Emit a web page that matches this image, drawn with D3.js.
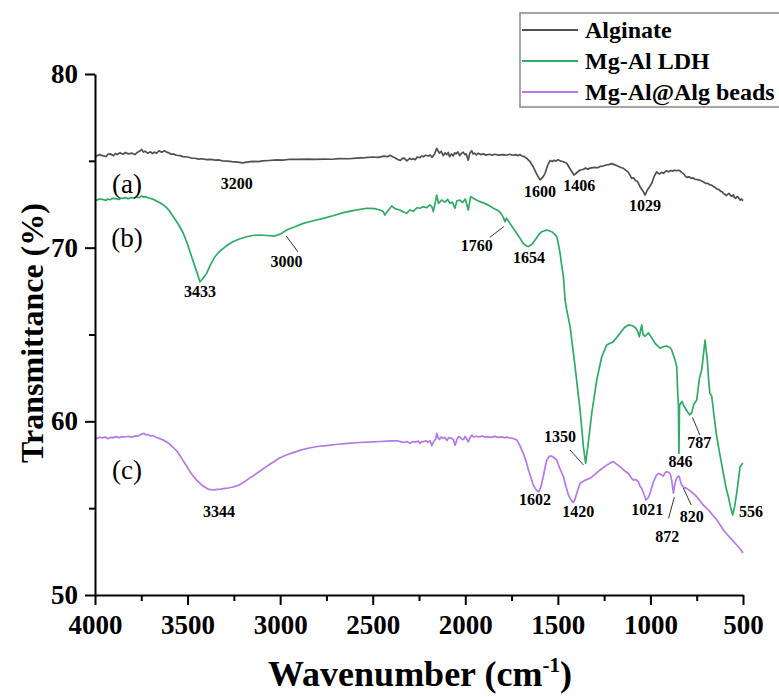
<!DOCTYPE html>
<html>
<head>
<meta charset="utf-8">
<script src="https://cdn.jsdelivr.net/npm/d3@7"></script>
<style>
  html, body { margin: 0; padding: 0; background: #fff; }
  svg { display: block; }
  text { font-family: "Liberation Serif", "Times New Roman", Times, serif; }
</style>
</head>
<body>
<svg id="chart" width="779" height="697"></svg>
<script>
// FTIR spectra: [wavenumber (cm-1), transmittance (%)]
const alginate = [
  [4000,75.25],[3991,75.28],[3975,75.36],[3960,75.30],[3940,75.25],[3930,75.38],[3919,75.40],[3900,75.30],
  [3890,75.42],[3880,75.36],[3865,75.46],[3849,75.38],[3835,75.48],[3820,75.40],[3800,75.44],[3785,75.36],
  [3770,75.50],[3755,75.58],[3748,75.66],[3738,75.50],[3730,75.56],[3715,75.44],[3700,75.52],[3690,75.42],
  [3680,75.50],[3667,75.44],[3655,75.58],[3640,75.50],[3625,75.58],[3613,75.50],[3600,75.46],[3590,75.38],
  [3575,75.40],[3560,75.32],[3540,75.30],[3525,75.24],[3500,75.22],[3480,75.16],[3460,75.15],[3440,75.10],
  [3420,75.12],[3397,75.07],[3375,75.08],[3350,75.04],[3330,75.05],[3309,75.00],[3285,74.98],[3260,74.95],
  [3230,74.93],[3201,74.88],[3180,74.93],[3150,74.97],[3120,74.95],[3093,75.00],[3060,75.02],[3020,75.05],
  [2985,75.04],[2947,75.09],[2900,75.08],[2850,75.10],[2810,75.08],[2768,75.10],[2720,75.09],[2680,75.13],
  [2630,75.12],[2586,75.16],[2540,75.18],[2500,75.22],[2470,75.20],[2440,75.27],[2420,75.24],[2407,75.32],
  [2390,75.22],[2380,75.18],[2365,75.08],[2350,75.02],[2340,75.14],[2330,75.16],[2316,75.00],[2300,75.14],
  [2290,75.08],[2280,75.12],[2270,75.06],[2260,75.22],[2245,75.18],[2236,75.28],[2227,75.24],[2215,75.32],
  [2200,75.28],[2190,75.34],[2180,75.20],[2172,75.30],[2165,75.42],[2154,75.72],[2146,75.56],[2140,75.44],
  [2130,75.54],[2119,75.30],[2110,75.46],[2100,75.36],[2092,75.48],[2085,75.24],[2075,75.40],[2065,75.28],
  [2057,75.46],[2050,75.40],[2040,75.52],[2030,75.30],[2020,75.44],[2011,75.50],[2003,75.36],[1995,75.40],
  [1984,75.04],[1975,75.46],[1965,75.58],[1958,75.40],[1950,75.44],[1940,75.34],[1930,75.44],[1918,75.36],
  [1903,75.40],[1888,75.33],[1870,75.38],[1855,75.32],[1840,75.38],[1820,75.33],[1795,75.36],[1778,75.32],
  [1760,75.38],[1745,75.32],[1730,75.36],[1715,75.30],[1704,75.36],[1695,75.28],[1685,75.26],[1676,75.20],
  [1668,75.14],[1660,75.06],[1650,74.95],[1633,74.66],[1615,74.25],[1596,73.90],[1582,74.05],[1569,74.28],
  [1555,74.75],[1542,75.01],[1530,74.96],[1520,75.04],[1510,74.98],[1500,75.06],[1488,75.00],[1470,74.95],
  [1452,74.86],[1432,74.50],[1413,74.18],[1400,74.30],[1380,74.47],[1365,74.50],[1350,74.58],[1338,74.52],
  [1326,74.58],[1300,74.62],[1285,74.60],[1272,74.68],[1255,74.70],[1240,74.76],[1225,74.78],[1209,74.84],
  [1195,74.78],[1180,74.72],[1160,74.62],[1146,74.57],[1120,74.35],[1101,73.99],[1090,74.02],[1080,73.85],
  [1070,73.82],[1056,73.51],[1040,73.25],[1029,73.03],[1015,73.35],[1005,73.50],[993,73.71],[980,74.10],
  [966,74.37],[958,74.28],[950,74.25],[940,74.34],[930,74.28],[915,74.42],[903,74.37],[890,74.44],
  [880,74.40],[870,74.46],[860,74.44],[850,74.46],[840,74.42],[830,74.32],[820,74.25],[812,74.12],
  [804,74.05],[792,74.08],[780,74.00],[770,74.02],[760,73.94],[745,73.92],[732,73.88],[715,73.80],
  [700,73.70],[690,73.70],[680,73.62],[670,73.60],[660,73.52],[650,73.46],[640,73.38],[630,73.34],
  [620,73.24],[612,73.22],[606,73.12],[598,73.08],[590,73.00],[582,73.08],[575,73.12],[567,73.00],
  [560,72.95],[552,73.04],[546,72.90],[540,72.84],[532,72.94],[525,72.90],[520,72.80],[515,72.74],
  [507,72.80],[500,72.70]
];

const mgAlLdh = [
  [4000,72.72],[3991,72.74],[3975,72.80],[3960,72.78],[3940,72.72],[3930,72.80],[3919,72.76],[3905,72.84],
  [3890,72.82],[3870,72.78],[3858,72.86],[3847,72.84],[3835,72.88],[3820,72.82],[3805,72.88],[3790,72.86],
  [3775,72.92],[3760,72.88],[3748,72.98],[3738,72.90],[3730,72.94],[3710,72.86],[3695,72.82],[3685,72.78],
  [3660,72.65],[3645,72.56],[3631,72.46],[3615,72.32],[3600,72.15],[3577,71.78],[3550,71.35],[3523,70.83],
  [3500,70.20],[3478,69.48],[3455,68.75],[3433,68.04],[3415,68.25],[3397,68.52],[3375,69.05],[3352,69.48],
  [3330,69.75],[3307,69.96],[3280,70.18],[3253,70.35],[3220,70.50],[3181,70.63],[3150,70.70],[3109,70.73],
  [3070,70.70],[3028,70.67],[3000,70.78],[2965,71.02],[2920,71.20],[2875,71.40],[2820,71.55],[2767,71.69],
  [2710,71.85],[2659,72.02],[2600,72.15],[2532,72.27],[2490,72.25],[2461,72.17],[2445,72.10],[2434,71.88],
  [2420,72.10],[2397,72.40],[2380,72.25],[2353,72.17],[2335,72.05],[2316,71.98],[2300,72.17],[2280,72.10],
  [2260,72.30],[2245,72.27],[2227,72.36],[2210,72.30],[2191,72.46],[2180,72.35],[2173,72.08],[2165,72.45],
  [2154,73.03],[2145,72.55],[2127,72.74],[2110,72.62],[2095,72.78],[2083,72.56],[2070,72.62],[2056,72.27],
  [2045,72.70],[2029,72.74],[2015,72.60],[2000,72.80],[1984,72.17],[1975,72.70],[1971,72.94],[1950,72.80],
  [1921,72.65],[1895,72.55],[1867,72.40],[1845,72.25],[1822,72.13],[1805,71.95],[1795,71.75],[1786,71.50],
  [1778,71.70],[1759,71.40],[1740,71.10],[1722,70.83],[1705,70.55],[1687,70.25],[1670,70.10],[1659,70.06],
  [1640,70.20],[1623,70.44],[1605,70.72],[1587,70.92],[1560,71.02],[1533,70.92],[1515,70.75],[1506,70.63],
  [1495,70.10],[1488,69.67],[1478,68.90],[1470,68.33],[1461,66.99],[1452,66.41],[1434,65.45],[1407,63.15],
  [1380,60.65],[1362,58.54],[1350,57.58],[1336,58.73],[1317,60.46],[1290,62.38],[1263,63.72],[1236,64.40],
  [1200,64.59],[1164,65.07],[1140,65.40],[1119,65.55],[1100,65.52],[1083,65.42],[1070,65.20],[1060,64.87],
  [1052,65.30],[1047,65.55],[1040,65.00],[1029,64.90],[1011,65.10],[995,64.85],[975,64.49],[948,64.21],
  [930,64.30],[912,64.34],[895,64.25],[885,64.10],[867,63.53],[858,63.15],[852,61.50],[849,61.04],
  [846,58.16],[843,60.90],[838,61.00],[830,61.15],[820,60.90],[800,60.55],[787,60.37],[777,60.50],
  [765,61.00],[750,61.23],[735,62.50],[723,62.96],[712,64.00],[705,64.68],[698,64.00],[693,63.60],
  [685,62.30],[679,61.61],[672,61.50],[669,61.45],[655,60.20],[642,59.12],[625,58.10],[606,57.00],
  [590,56.10],[579,55.66],[566,55.00],[556,54.61],[545,55.10],[534,55.86],[525,56.60],[516,57.39],
  [502,57.58],[500,57.60]
];

const mgAlAlgBeads = [
  [4000,59.00],[3989,59.02],[3975,59.08],[3960,59.05],[3945,59.10],[3930,59.00],[3915,59.08],[3900,59.06],
  [3885,59.12],[3870,59.05],[3855,59.12],[3840,59.10],[3820,59.14],[3800,59.08],[3785,59.16],[3770,59.14],
  [3750,59.25],[3735,59.31],[3725,59.22],[3715,59.24],[3700,59.16],[3690,59.18],[3670,59.08],[3654,59.02],
  [3635,58.94],[3610,58.80],[3590,58.62],[3573,58.45],[3555,58.25],[3540,58.00],[3525,57.75],[3510,57.50],
  [3495,57.25],[3480,57.00],[3465,56.80],[3450,56.60],[3435,56.45],[3420,56.30],[3405,56.20],[3390,56.10],
  [3370,56.06],[3357,56.05],[3340,56.08],[3320,56.10],[3300,56.14],[3280,56.16],[3255,56.22],[3222,56.33],
  [3195,56.50],[3170,56.70],[3140,56.90],[3114,57.10],[3085,57.32],[3060,57.50],[3030,57.70],[3006,57.87],
  [2970,58.05],[2930,58.20],[2890,58.34],[2849,58.45],[2800,58.55],[2740,58.62],[2690,58.68],[2633,58.73],
  [2570,58.78],[2500,58.82],[2460,58.84],[2420,58.86],[2390,58.88],[2363,58.87],[2345,58.82],[2330,58.78],
  [2315,58.84],[2299,58.73],[2285,58.84],[2270,58.80],[2255,58.86],[2245,58.72],[2236,58.84],[2227,58.82],
  [2212,58.88],[2200,58.80],[2190,58.88],[2181,58.60],[2170,58.85],[2160,58.98],[2154,59.31],[2147,59.05],
  [2140,58.95],[2130,59.10],[2119,59.02],[2110,59.08],[2100,58.90],[2090,59.06],[2080,59.05],[2065,58.96],
  [2055,58.62],[2045,58.95],[2037,59.12],[2029,59.10],[2020,58.98],[2010,58.95],[2002,59.12],[1995,59.05],
  [1984,58.82],[1975,59.05],[1965,59.20],[1955,59.10],[1940,59.14],[1925,59.10],[1910,59.16],[1895,59.10],
  [1884,59.12],[1865,59.08],[1840,59.13],[1820,59.08],[1800,59.10],[1785,59.06],[1776,59.09],[1760,59.04],
  [1750,59.04],[1735,58.98],[1722,58.93],[1705,58.60],[1687,58.16],[1670,57.65],[1659,57.20],[1645,56.75],
  [1633,56.33],[1617,56.05],[1602,55.95],[1590,56.30],[1579,56.81],[1570,57.30],[1560,57.77],[1545,58.00],
  [1533,58.00],[1520,57.90],[1506,57.77],[1490,57.30],[1470,56.81],[1455,56.20],[1443,55.76],[1430,55.50],
  [1417,55.32],[1408,55.50],[1398,55.86],[1380,56.43],[1355,56.60],[1326,56.72],[1300,56.95],[1272,57.20],
  [1240,57.45],[1215,57.62],[1200,57.68],[1185,57.55],[1164,57.39],[1140,57.15],[1119,57.00],[1100,56.70],
  [1092,56.62],[1080,56.65],[1065,56.52],[1055,56.25],[1047,56.14],[1035,55.80],[1024,55.47],[1012,55.60],
  [1002,55.86],[984,56.52],[970,56.85],[957,57.00],[945,56.95],[930,56.85],[920,57.05],[912,57.10],
  [900,57.05],[894,57.00],[885,56.60],[876,55.86],[866,56.50],[858,56.72],[850,56.85],[844,56.81],
  [838,56.55],[831,56.33],[820,56.20],[804,56.14],[780,55.95],[750,55.66],[720,55.25],[679,54.80],
  [640,54.30],[606,53.74],[570,53.30],[534,52.88],[515,52.65],[500,52.42]
];

const seriesNames = ["Alginate", "Mg-Al LDH", "Mg-Al@Alg beads"];
const seriesColors = ["#505050", "#2fab67", "#b479e6"];
const seriesTags = ["(a)", "(b)", "(c)"];

const xMajorTicks = [4000, 3500, 3000, 2500, 2000, 1500, 1000, 500];
const xMinorTicks = [3750, 3250, 2750, 2250, 1750, 1250, 750];
const yMajorTicks = [50, 60, 70, 80];
const yMinorTicks = [55, 65, 75];

// Peak labels: [text, wavenumber, transmittance] of the label's baseline centre
const peakLabels = [
  ["3200", 3235, 73.36], ["1600", 1596, 72.94], ["1406", 1384, 73.26], ["1029", 1029, 72.13],
  ["3433", 3433, 67.18], ["3000", 2965, 68.87], ["1760", 1938, 69.83], ["1654", 1656, 69.13],
  ["1350", 1488, 58.83], ["787", 736, 58.45], ["846", 837, 57.39], ["556", 457, 54.51],
  ["3344", 3330, 54.47], ["1602", 1623, 55.18], ["1420", 1390, 54.51], ["1021", 1017, 54.61],
  ["820", 777, 54.22], ["872", 909, 53.07]
];
// Leader lines joining a label to its band: [w1, T1, w2, T2]
const leaders = [
  [2967, 70.67, 2904, 69.76],
  [1867, 70.60, 1792, 71.21],
  [1434, 58.35, 1362, 57.49],
  [773, 60.23, 733, 59.21],
  [822, 56.15, 780, 55.19],
  [871, 55.63, 902, 54.42]
];
// Curve tags placed at [wavenumber, transmittance]
const tagPositions = [[3827, 73.15], [3827, 70.06], [3827, 56.66]];

const svg = d3.select("#chart");
svg.append("rect").attr("width", 779).attr("height", 697).attr("fill", "#fff");

const x = d3.scaleLinear().domain([4000, 500]).range([95, 743]);
const y = d3.scaleLinear().domain([50, 80]).range([595, 74]);

const line = d3.line().x(d => x(d[0])).y(d => y(d[1])).curve(d3.curveLinear);

const data = [alginate, mgAlLdh, mgAlAlgBeads];
svg.append("g").selectAll("path").data(data).join("path")
  .attr("d", d => line(d))
  .attr("fill", "none")
  .attr("stroke", (d, i) => seriesColors[i])
  .attr("stroke-width", 1.7)
  .attr("stroke-linejoin", "round");

// Axes
const tickFont = g => g.selectAll("text")
  .attr("font-size", 27).attr("font-weight", "bold").attr("fill", "#000")
  .style("font-family", "'Liberation Serif','Times New Roman',serif");

svg.append("g").attr("transform", "translate(0,595)")
  .call(d3.axisBottom(x).tickValues(xMajorTicks).tickSize(10).tickSizeOuter(0).tickPadding(10)
    .tickFormat(d3.format("d")))
  .call(tickFont);
svg.append("g").attr("transform", "translate(0,595)")
  .call(d3.axisBottom(x).tickValues(xMinorTicks).tickSize(6).tickFormat(""))
  .call(g => g.select(".domain").remove());

svg.append("g").attr("transform", "translate(95,0)")
  .call(d3.axisLeft(y).tickValues(yMajorTicks).tickSize(10).tickSizeOuter(0).tickPadding(7))
  .call(tickFont);
svg.append("g").attr("transform", "translate(95,0)")
  .call(d3.axisLeft(y).tickValues(yMinorTicks).tickSize(6).tickFormat(""))
  .call(g => g.select(".domain").remove());

svg.selectAll(".domain, .tick line").attr("stroke", "#000").attr("stroke-width", 2);

// Axis titles
svg.append("text")
  .attr("x", 420).attr("y", 686)
  .attr("text-anchor", "middle")
  .attr("font-size", 36).attr("font-weight", "bold")
  .html('Wavenumber (cm<tspan dy="-14" font-size="21">-1</tspan><tspan dy="14">)</tspan>');

svg.append("text")
  .attr("transform", "translate(43,333) rotate(-90)")
  .attr("text-anchor", "middle")
  .attr("font-size", 32).attr("font-weight", "bold")
  .text("Transmittance (%)");

// Curve tags
svg.append("g").selectAll("text").data(seriesTags).join("text")
  .attr("x", (d, i) => x(tagPositions[i][0]))
  .attr("y", (d, i) => y(tagPositions[i][1]))
  .attr("text-anchor", "middle")
  .attr("font-size", 27)
  .text(d => d);

// Leader lines
svg.append("g").selectAll("line").data(leaders).join("line")
  .attr("x1", d => x(d[0])).attr("y1", d => y(d[1]))
  .attr("x2", d => x(d[2])).attr("y2", d => y(d[3]))
  .attr("stroke", "#333").attr("stroke-width", 1);

// Peak labels
svg.append("g").selectAll("text").data(peakLabels).join("text")
  .attr("x", d => x(d[1])).attr("y", d => y(d[2]))
  .attr("text-anchor", "middle")
  .attr("font-size", 16).attr("font-weight", "bold")
  .text(d => d[0]);

// Legend
const legend = svg.append("g");
legend.append("rect")
  .attr("x", 520).attr("y", 13).attr("width", 290).attr("height", 94)
  .attr("fill", "#fff").attr("stroke", "#888").attr("stroke-width", 1.5);
const rows = legend.selectAll("g.row").data(seriesNames).join("g")
  .attr("class", "row")
  .attr("transform", (d, i) => `translate(0,${30 + i * 31})`);
rows.append("line")
  .attr("x1", 522).attr("x2", 578).attr("y1", 0).attr("y2", 0)
  .attr("stroke", (d, i) => seriesColors[i]).attr("stroke-width", 2);
rows.append("text")
  .attr("x", 585).attr("y", 8)
  .attr("font-size", 24).attr("font-weight", "bold")
  .text(d => d);
</script>
</body>
</html>
